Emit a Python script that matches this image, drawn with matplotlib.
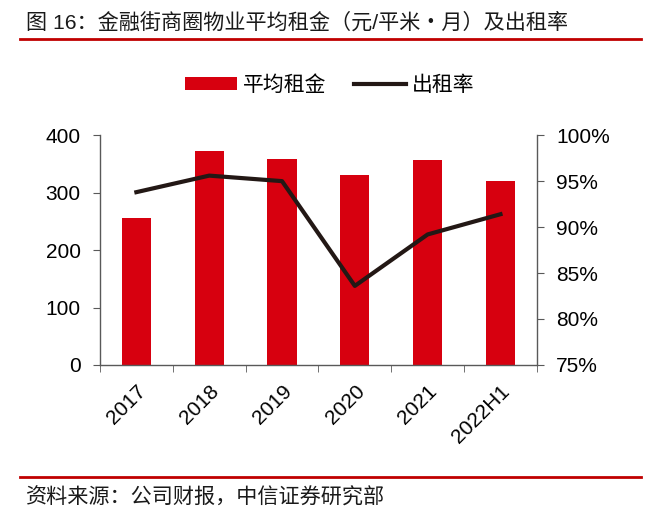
import numpy as np
import matplotlib.pyplot as plt
import matplotlib.ticker as ticker
from matplotlib.lines import Line2D
from matplotlib.patches import Patch

plt.rcParams['font.family'] = ['Liberation Sans', 'Noto Sans CJK SC', 'DejaVu Sans']

years = ['2017', '2018', '2019', '2020', '2021', '2022H1']
rent = [256, 372, 358, 331, 357, 321]          # 元/平米·月
occupancy = [93.8, 95.6, 95.0, 83.6, 89.2, 91.4]  # %

red = '#d7000f'
dark = '#231815'
grey = '#595959'

fig = plt.figure(figsize=(6.62, 5.14), dpi=100)
ax = fig.add_axes([0.151, 0.290, 0.660, 0.447])
x = np.arange(len(years))

ax.bar(x, rent, width=0.4, color=red, zorder=2)
ax.set_xlim(-0.5, len(years) - 0.5)
ax.set_ylim(0, 400)
ax.yaxis.set_major_locator(ticker.MultipleLocator(100))

ax2 = ax.twinx()
ax2.plot(x, occupancy, color=dark, linewidth=3, zorder=3)
ax2.set_ylim(75, 100)
ax2.yaxis.set_major_locator(ticker.MultipleLocator(5))
ax2.yaxis.set_major_formatter(ticker.FuncFormatter(lambda v, _: f'{v:.0f}%'))

ax.set_xticks(x)
ax.set_xticklabels(years, rotation=45, ha='right', va='top', rotation_mode='anchor')
ax.set_xticks(np.arange(-0.5, len(years)), minor=True)
ax.tick_params(axis='x', which='major', length=0, pad=12, labelsize=15)
ax.tick_params(axis='x', which='minor', length=5, color=grey, direction='out')
ax.tick_params(axis='y', length=5, color=grey, labelsize=15, pad=9)
ax2.tick_params(axis='y', length=5, color=grey, labelsize=15, pad=9)

for a in (ax, ax2):
    a.spines['top'].set_visible(False)
    for s in ('left', 'right', 'bottom'):
        a.spines[s].set_color(grey)
        a.spines[s].set_linewidth(1)
ax.spines['right'].set_visible(False)
ax2.spines['left'].set_visible(False)
ax2.spines['bottom'].set_visible(False)

handles = [Patch(facecolor=red, label='平均租金'),
           Line2D([0], [0], color=dark, linewidth=3, label='出租率')]
fig.legend(handles=handles, loc='center', bbox_to_anchor=(0.498, 0.835), ncol=2,
           frameon=False, fontsize=15, handlelength=2.5, handleheight=0.55,
           columnspacing=1.3, handletextpad=0.3)

# title and source
fig.text(0.039, 0.956, '图 16：金融街商圈物业平均租金（元/平米・月）及出租率',
         fontsize=15.2, color='#1a1a1a', va='center', ha='left')
fig.add_artist(Line2D([0.030, 0.968], [0.924, 0.924], color='#c00000', linewidth=2))
fig.add_artist(Line2D([0.030, 0.968], [0.0726, 0.0726], color='#c00000', linewidth=2))
fig.text(0.039, 0.032, '资料来源：公司财报，中信证券研究部',
         fontsize=15.2, color='#1a1a1a', va='center', ha='left')

fig.savefig('out.png')
